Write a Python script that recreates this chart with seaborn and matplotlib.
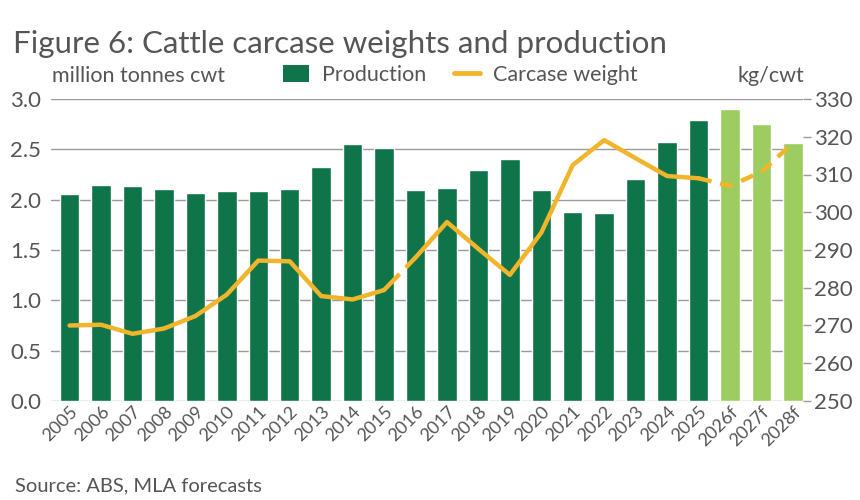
import matplotlib
matplotlib.use("Agg")
import matplotlib.pyplot as plt
from matplotlib.lines import Line2D
from matplotlib.patches import Patch
import pandas as pd
import seaborn as sns

years = ['2005', '2006', '2007', '2008', '2009', '2010', '2011', '2012', '2013', '2014',
         '2015', '2016', '2017', '2018', '2019', '2020', '2021', '2022', '2023', '2024',
         '2025', '2026f', '2027f', '2028f']
production = [2.06, 2.15, 2.14, 2.11, 2.07, 2.09, 2.09, 2.11, 2.32, 2.55,
              2.51, 2.10, 2.12, 2.29, 2.40, 2.10, 1.88, 1.87, 2.21, 2.57,
              2.79, 2.90, 2.75, 2.56]
carcase_weight = [270.0, 270.2, 267.8, 269.2, 272.5, 278.2, 287.2, 287.0, 277.8, 276.9,
                  279.4, 288.0, 297.4, 290.3, 283.4, 294.6, 312.5, 319.1, 314.3, 309.6,
                  309.0, 307.0, 310.7, 318.3]

dark_green = '#0f7449'
light_green = '#9dcd60'
gold = '#f1b52c'
text_grey = '#555555'

sns.set_theme(style='white')
plt.rcParams['font.family'] = ['Lato', 'DejaVu Sans']

df = pd.DataFrame({'year': years, 'production': production, 'weight': carcase_weight})
bar_colors = {y: (light_green if y.endswith('f') else dark_green) for y in years}

fig = plt.figure(figsize=(8.6, 5), dpi=100)
ax = fig.add_axes([0.059, 0.198, 0.875, 0.604])

sns.barplot(data=df, x='year', y='production', hue='year', palette=bar_colors,
            legend=False, width=0.62, saturation=1, ax=ax)
ax.set_ylim(0, 3.0)
ax.set_yticks([0, 0.5, 1.0, 1.5, 2.0, 2.5, 3.0])
ax.set_yticklabels([f'{v:.1f}' for v in ax.get_yticks()])
ax.set_xlim(-0.6, 23.33)
ax.yaxis.grid(True, color='#9a9a9a', linewidth=1)
ax.set_axisbelow(True)
ax.set_xlabel('')
ax.set_ylabel('')
for s in ax.spines.values():
    s.set_visible(False)
ax.tick_params(axis='y', length=0, labelsize=16, colors=text_grey, pad=7)
ax.tick_params(axis='x', length=0, labelsize=13, colors=text_grey, pad=2)
plt.setp(ax.get_xticklabels(), rotation=45, ha='right', rotation_mode='anchor')

ax2 = ax.twinx()
ax2.set_ylim(250, 330)
ax2.set_yticks(range(250, 331, 10))
for s in ax2.spines.values():
    s.set_visible(False)
ax2.tick_params(axis='y', length=6, width=1, color='#9a9a9a', labelsize=16,
                colors=text_grey, pad=2)
ax2.grid(False)

# solid history, a short broken stretch 2015-16, dashed forecasts
xs = list(range(len(years)))
solid_a = slice(0, 11)
gap_seg = slice(10, 12)
solid_b = slice(11, 21)
fc_seg = slice(20, 24)
ax2.plot(xs[solid_a], carcase_weight[solid_a], color=gold, lw=3.2, solid_capstyle='round')
ax2.plot(xs[gap_seg], carcase_weight[gap_seg], color=gold, lw=3.2, dashes=(5, 2))
ax2.plot(xs[solid_b], carcase_weight[solid_b], color=gold, lw=3.2, solid_capstyle='round')
ax2.plot(xs[fc_seg], carcase_weight[fc_seg], color=gold, lw=3.2, dashes=(3, 2))

fig.text(0.015, 0.895, 'Figure 6: Cattle carcase weights and production', fontsize=22.5,
         color=text_grey, ha='left', va='baseline')
fig.text(0.06, 0.836, 'million tonnes cwt', fontsize=15.5, color=text_grey, va='baseline')
fig.text(0.857, 0.836, 'kg/cwt', fontsize=15.5, color=text_grey, va='baseline')
fig.text(0.017, 0.018, 'Source: ABS, MLA forecasts', fontsize=14.5, color=text_grey)

handles = [Patch(facecolor=dark_green, edgecolor='none'),
           Line2D([0], [0], color=gold, lw=3.5)]
fig.legend(handles, ['Production', 'Carcase weight'], loc='center', ncol=2, frameon=False,
           bbox_to_anchor=(0.535, 0.85), fontsize=15.5, labelcolor=text_grey,
           handlelength=1.2, handleheight=0.8, columnspacing=1.3, handletextpad=0.6)

fig.savefig('out.png', dpi=100, facecolor='white')
